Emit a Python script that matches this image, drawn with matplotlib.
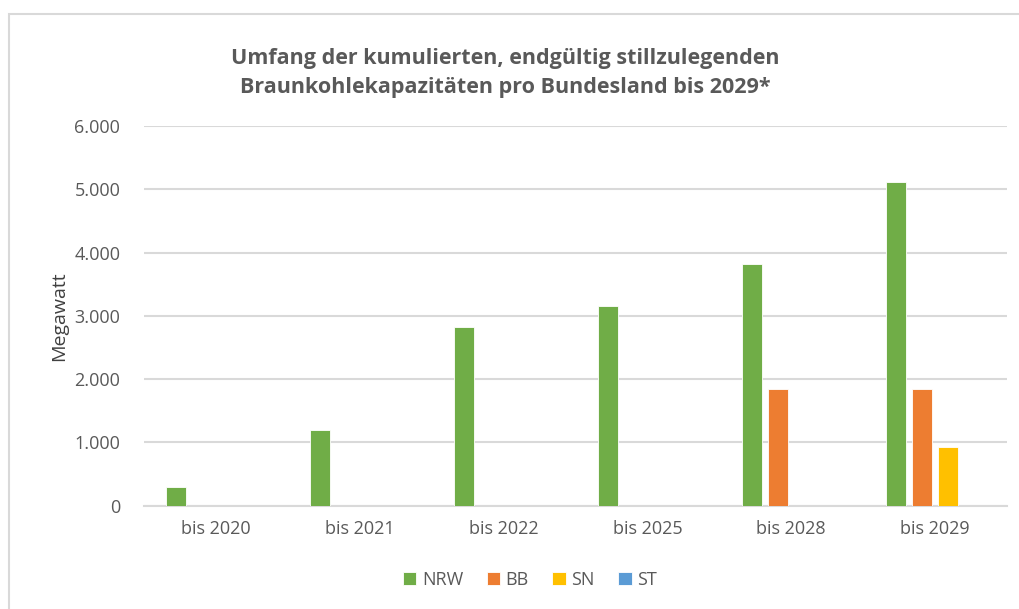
import matplotlib
matplotlib.use("Agg")
from matplotlib import pyplot as plt
from matplotlib.patches import Rectangle
import numpy as np

plt.rcParams['font.family'] = ['Open Sans', 'DejaVu Sans']

# Daten (Megawatt, kumuliert)
kategorien = ["bis 2020", "bis 2021", "bis 2022", "bis 2025", "bis 2028", "bis 2029"]
nrw = [290, 1200, 2820, 3150, 3820, 5110]
bb = [0, 0, 0, 0, 1850, 1850]
sn = [0, 0, 0, 0, 0, 925]
st = [0, 0, 0, 0, 0, 0]
laender = ["NRW", "BB", "SN", "ST"]
farben = ["#70AD47", "#ED7D31", "#FFC000", "#5B9BD5"]
yticks = [0, 1000, 2000, 3000, 4000, 5000, 6000]

textfarbe = "#595959"
gitter = "#D9D9D9"

fig = plt.figure(figsize=(10.19, 6.09), dpi=100)
ax = fig.add_axes([0.1413, 0.1696, 0.8469, 0.6235])

# Rahmen um das Diagramm
fig.patches.append(Rectangle((9 / 1019, -0.05), 1.1, 1 - 14 / 609 + 0.05,
                             transform=fig.transFigure, fill=False,
                             edgecolor="#D9D9D9", linewidth=1.5))

x = np.arange(len(kategorien))
abstand = 0.183
breite = 0.139
for i, (werte, name, farbe) in enumerate(zip([nrw, bb, sn, st], laender, farben)):
    ax.bar(x + (i - 1.5) * abstand, werte, breite, color=farbe, label=name,
           edgecolor="white", linewidth=0.6, zorder=3)

ax.set_xlim(-0.5, len(kategorien) - 0.5)
ax.set_ylim(0, 6000)
ax.set_yticks(yticks)
ax.set_yticklabels([f"{v:,}".replace(",", ".") for v in yticks])
ax.set_xticks(x)
ax.set_xticklabels(kategorien)
ax.tick_params(axis="both", length=0, labelsize=13, colors=textfarbe)
ax.tick_params(axis="y", pad=17)
ax.tick_params(axis="x", pad=10)
ax.grid(axis="y", color=gitter, linewidth=1.5, zorder=0)
for s in ["top", "right", "left"]:
    ax.spines[s].set_visible(False)
ax.spines["bottom"].set_color(gitter)
ax.spines["bottom"].set_linewidth(1.5)

ax.set_ylabel("Megawatt", fontsize=14, color="#404040")
ax.yaxis.set_label_coords(-0.088, 0.5)

fig.text(0.496, 0.88, "Umfang der kumulierten, endgültig stillzulegenden\n"
         "Braunkohlekapazitäten pro Bundesland bis 2029*",
         ha="center", va="center", fontsize=15.5, fontweight="bold",
         color=textfarbe, linespacing=1.55)

fig.legend(loc="center", bbox_to_anchor=(0.52, 0.048), ncol=4, frameon=False,
           fontsize=13, labelcolor=textfarbe, handlelength=0.75, handleheight=0.75,
           handletextpad=0.3, columnspacing=1.3)

fig.savefig("out.png", dpi=100)
